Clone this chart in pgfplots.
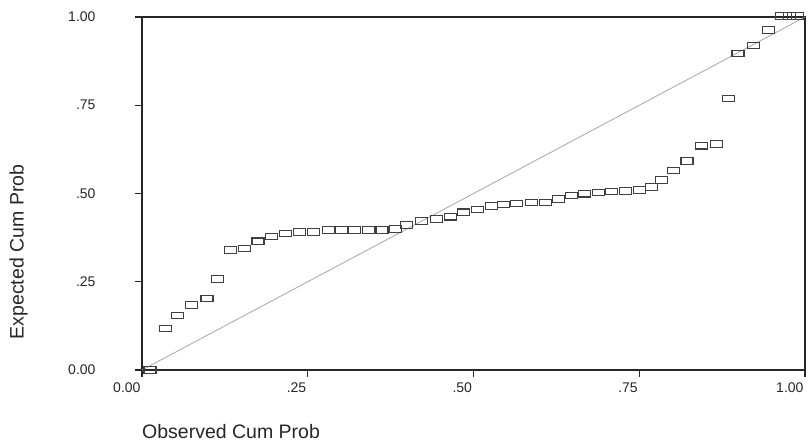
\documentclass[border=0pt]{standalone}
\usepackage{fontspec}
\setmainfont{Liberation Sans}
\usepackage{pgfplots}
\pgfplotsset{compat=1.18}
\pgfdeclareplotmark{rbox}{%
  \pgfsetcornersarced{\pgfpoint{1.2pt}{1.2pt}}%
  \pgfpathrectangle{\pgfpoint{-6pt}{-3.2pt}}{\pgfpoint{12pt}{6.4pt}}%
  \pgfusepathqstroke}
\begin{document}
\begin{tikzpicture}[x=1pt,y=1pt]
\path[use as bounding box] (0,0) rectangle (808,444);
\begin{axis}[
  at={(142pt,74pt)}, anchor=south west,
  scale only axis, width=663pt, height=353pt,
  xmin=0, xmax=1, ymin=0, ymax=1,
  axis line style={line width=1.6pt, black!85},
  xtick={0,0.25,0.5,0.75,1},
  xticklabels={0.00,.25,.50,.75,1.00},
  ytick={0,0.25,0.5,0.75,1},
  yticklabels={0.00,.25,.50,.75,1.00},
  xtick pos=bottom, ytick pos=left,
  tick align=outside,
  major tick length=7pt,
  tick style={line width=1.2pt, black!85},
  ticklabel style={font=\fontsize{14}{14}\selectfont, text=black!85},
  yticklabel style={anchor=east, xshift=-36pt},
  xticklabel style={anchor=north east, xshift=2pt, yshift=-2pt},
  clip=false,
]
\addplot[gray!70, line width=0.8pt] coordinates {(0,0) (1,1)};
\addplot[only marks, mark=rbox, mark options={line width=1.1pt, draw=black!75, fill=none}] coordinates {
(0.012,0.000) (0.035,0.118) (0.053,0.155) (0.074,0.184) (0.098,0.202)
(0.114,0.258) (0.134,0.340) (0.154,0.344) (0.175,0.365) (0.195,0.378)
(0.216,0.387) (0.238,0.391) (0.258,0.391) (0.281,0.397) (0.301,0.397)
(0.321,0.397) (0.341,0.397) (0.362,0.397) (0.382,0.399) (0.399,0.411)
(0.422,0.422) (0.444,0.428) (0.465,0.434) (0.485,0.447) (0.506,0.455)
(0.527,0.465) (0.545,0.469) (0.565,0.472) (0.588,0.475) (0.608,0.475)
(0.628,0.484) (0.648,0.494) (0.668,0.499) (0.688,0.503) (0.708,0.505)
(0.729,0.507) (0.750,0.510) (0.768,0.518) (0.784,0.538) (0.802,0.565)
(0.822,0.592) (0.844,0.635) (0.866,0.640) (0.884,0.769) (0.899,0.897)
(0.922,0.919) (0.945,0.963) (0.965,1.003) (0.977,1.003) (0.988,1.003)
};
\end{axis}
\node[anchor=west, font=\fontsize{19.5}{20}\selectfont, text=black!85, inner sep=0pt] at (142,12) {Observed Cum Prob};
\node[rotate=90, font=\fontsize{19.5}{20}\selectfont, text=black!85, inner sep=0pt] at (18.5,192) {Expected Cum Prob};
\end{tikzpicture}
\end{document}
